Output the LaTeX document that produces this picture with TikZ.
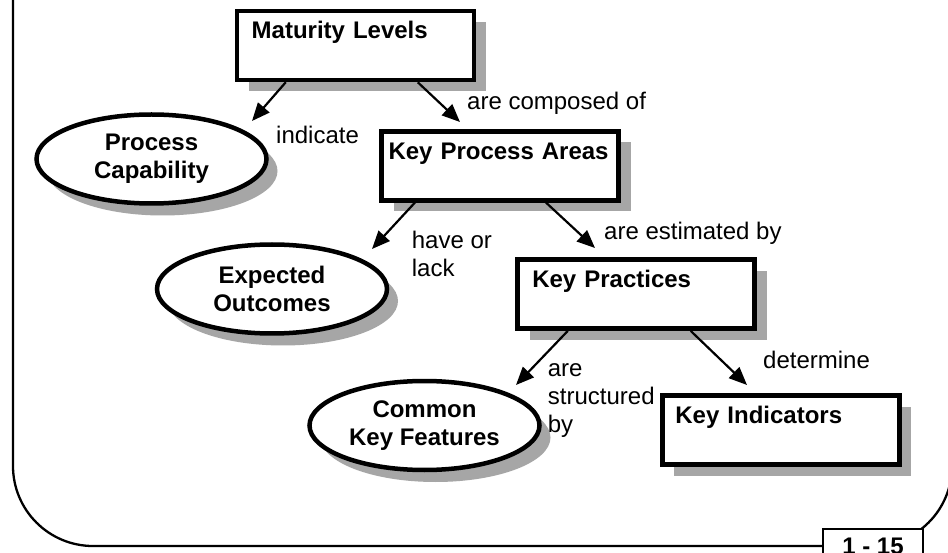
\documentclass[tikz,border=0pt]{standalone}
\usepackage{fontspec}
\setmainfont{Liberation Sans}
\usetikzlibrary{shapes.geometric,shadows,arrows.meta}
\definecolor{shadowgray}{RGB}{166,166,166}
\tikzset{
  txt/.style={font=\fontsize{24}{28}\selectfont},
  btxt/.style={font=\fontsize{24}{28}\selectfont\bfseries},
  boxnode/.style={btxt, rectangle, draw, line width=4.5pt, fill=white, align=left,
    text height=17pt, text depth=30pt, inner ysep=11pt,
    drop shadow={shadow xshift=12pt, shadow yshift=-11pt, fill=shadowgray, opacity=1}},
  ellnode/.style={btxt, ellipse, draw, line width=4.5pt, fill=white, align=center,
    minimum width=230pt, minimum height=89pt, inner sep=0pt,
    drop shadow={shadow xshift=11pt, shadow yshift=-12pt, fill=shadowgray, opacity=1}},
  lbl/.style={txt, inner sep=0pt, align=left, anchor=base west},
  arr/.style={line width=2.2pt, -{Triangle[length=18pt,width=15pt]}},
  frame/.style={line width=2.3pt, rounded corners=80pt},
  pagebox/.style={btxt, rectangle, draw, line width=2.3pt, fill=white,
    minimum width=100pt, text height=17pt, text depth=10pt, inner ysep=8pt, anchor=north}
}
\begin{document}
\begin{tikzpicture}[x=1pt, y=-1pt]
\useasboundingbox (0,0) rectangle (948,553);
\clip (0,0) rectangle (948,553);
\fill[white] (0,0) rectangle (948,553);
% frame
\draw[frame] (13,-20) -- (13,546) -- (952,546) -- (952,-20);
% boxes
\node[boxnode, inner xsep=14.7pt, text width=207.6pt] (ml) at (355.5,45.5) {Maturity Levels};
\node[boxnode, inner xsep=7pt, text width=223pt] (kpa) at (500,165.8) {Key Process Areas};
\node[boxnode, inner xsep=14.6pt, text width=207.8pt] (kp) at (636.2,294.2) {Key Practices};
\node[boxnode, inner xsep=13pt, text width=211pt] (ki) at (780.9,430) {Key Indicators};
% ellipses
\node[ellnode] (pc) at (151.5,159) {Process\\Capability};
\node[ellnode] (eo) at (272,289) {Expected\\Outcomes};
\node[ellnode] (ckf) at (424.5,425.5) {Common\\Key Features};
% connectors
\draw[arr] ([xshift=51pt]ml.south west) -- ([shift={(100.5,-38)}]pc.center);
\draw[arr] ([xshift=183pt]ml.south west) -- ([shift={(-40,-43.8)}]kpa.center);
\draw[arr] ([xshift=35.7pt]kpa.south west) -- ([shift={(100,-40)}]eo.center);
\draw[arr] ([xshift=166.7pt]kpa.south west) -- ([shift={(-41.2,-46.2)}]kp.center);
\draw[arr] ([xshift=52.3pt]kp.south west) -- ([shift={(91.5,-40.5)}]ckf.center);
\draw[arr] ([xshift=175.3pt]kp.south west) -- ([shift={(-33.9,-45)}]ki.center);
% labels
\node[lbl] (l1) at (276,144) {indicate};
\node[lbl] (l2) at (467,110) {are composed of};
\node[lbl] (l3) at (411.7,276.5) {have or\\lack};
\node[lbl] (l4) at (604,240) {are estimated by};
\node[lbl] (l5) at (547.7,432.7) {are\\structured\\by};
\node[lbl] (l6) at (763,368) {determine};
% page number
\node[pagebox] (pg) at (873,528) {1 - 15};
\end{tikzpicture}
\end{document}
